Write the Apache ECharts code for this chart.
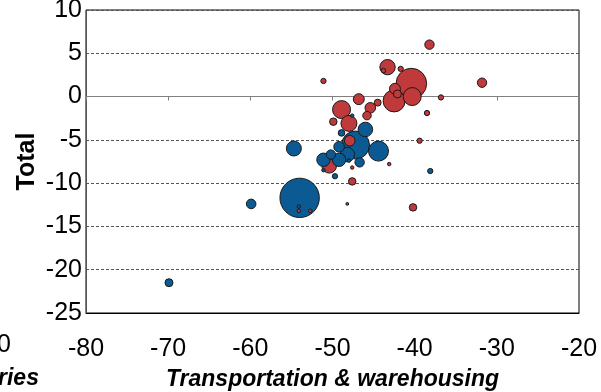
<!DOCTYPE html>
<html>
<head>
<meta charset="utf-8">
<script src="https://cdn.jsdelivr.net/npm/echarts@6/dist/echarts.min.js"></script>
<style>
html,body{margin:0;padding:0;background:#fff;}
#chart{width:601px;height:392px;}
</style>
</head>
<body>
<div id="chart"></div>
<script>
// Data: [x (Transportation & warehousing), y (Total), bubble size]
var redSeries = [
  [-38.2, 6.0, 22], [-43.3, 3.4, 59], [-43.8, 3.0, 5], [-41.7, 3.2, 7],
  [-40.4, 1.5, 234], [-31.8, 1.6, 22], [-51.1, 1.8, 7], [-42.4, 0.9, 30],
  [-42.1, 0.3, 16], [-40.3, 0.0, 81], [-42.5, -0.5, 121], [-36.8, -0.1, 7],
  [-46.8, -0.3, 30], [-44.5, -0.7, 12], [-45.4, -1.3, 28], [-48.9, -1.5, 81],
  [-45.8, -2.2, 18], [-48.0, -3.1, 64], [-49.9, -2.9, 14], [-38.5, -1.9, 7],
  [-47.9, -5.1, 28], [-39.4, -5.1, 7], [-50.4, -8.0, 53], [-43.1, -7.8, 3],
  [-47.6, -8.2, 3], [-47.6, -9.8, 14], [-48.2, -12.4, 2], [-40.2, -12.8, 14],
  [-54.1, -13.2, 3], [-52.7, -13.2, 3]
];
var blueSeries = [
  [-46.0, -3.8, 53], [-48.9, -4.2, 11], [-47.6, -2.2, 3], [-47.2, -5.6, 196],
  [-54.7, -6.0, 56], [-44.4, -6.3, 100], [-49.2, -5.8, 28], [-48.2, -6.7, 53],
  [-50.2, -6.7, 22], [-51.1, -7.3, 45], [-49.2, -7.3, 45], [-46.7, -7.6, 22],
  [-48.0, -7.4, 3], [-51.1, -8.5, 3], [-49.7, -9.2, 7], [-38.1, -8.6, 7],
  [-54.0, -11.7, 388], [-54.1, -12.7, 3], [-59.9, -12.4, 23], [-69.9, -21.5, 16]
];
var xTicks = {min: -80, max: -20, interval: 10};
var yTicks = {min: -25, max: 10, interval: 5};
var xTitle = 'Transportation & warehousing';
var yTitle = 'Total';

var RED = '#c0393b', BLUE = '#0b5a94';
var combined = [];
redSeries.forEach(function(d){ combined.push({value: d, itemStyle: {color: RED}}); });
blueSeries.forEach(function(d){ combined.push({value: d, itemStyle: {color: BLUE}}); });
combined.sort(function(a, b){ return b.value[2] - a.value[2]; });

var tickFont = "'Liberation Sans Narrow','Arial Narrow','Liberation Sans',Arial,sans-serif";
var titleFont = "'Liberation Sans',Arial,sans-serif";

var chart = echarts.init(document.getElementById('chart'), null, {renderer: 'canvas'});
chart.setOption({
  animation: false,
  backgroundColor: '#fff',
  grid: {left: 86, right: 22, top: 10, bottom: 79, containLabel: false, outerBoundsMode: 'none',
         show: true, borderColor: '#000', borderWidth: 1, backgroundColor: 'transparent'},
  xAxis: [{
    type: 'value', min: xTicks.min, max: xTicks.max, interval: xTicks.interval,
    position: 'bottom',
    axisLine: {show: true, onZero: false, lineStyle: {color: '#000'}},
    axisTick: {show: false},
    splitLine: {show: false},
    axisLabel: {fontFamily: tickFont, fontSize: 25, color: '#000', margin: 24},
    name: xTitle, nameLocation: 'middle', nameGap: 55, nameMoveOverlap: false,
    nameTextStyle: {fontFamily: titleFont, fontSize: 23, fontWeight: 'bold', fontStyle: 'italic', color: '#000'}
  }, {
    type: 'value', min: xTicks.min, max: xTicks.max, interval: xTicks.interval,
    position: 'top',
    axisLine: {show: true, onZero: true, lineStyle: {color: '#808080', width: 1}},
    axisTick: {show: true, inside: true, length: 4, lineStyle: {color: '#808080'}},
    axisLabel: {show: false},
    splitLine: {show: false}
  }],
  yAxis: {
    type: 'value', min: yTicks.min, max: yTicks.max, interval: yTicks.interval,
    axisLine: {show: true, onZero: false, lineStyle: {color: '#555'}},
    axisTick: {show: false},
    splitLine: {show: true, lineStyle: {color: '#555', type: [3, 2], width: 1}},
    axisLabel: {fontFamily: tickFont, fontSize: 25, color: '#000', margin: 4},
    name: yTitle, nameLocation: 'middle', nameGap: 46, nameRotate: 90, nameMoveOverlap: false,
    nameTextStyle: {fontFamily: titleFont, fontSize: 25, fontWeight: 'bold', color: '#000'}
  },
  graphic: [
    {type: 'text', right: 590, top: 333, style: {text: '0', font: "25px 'Liberation Sans Narrow','Arial Narrow',sans-serif", fill: '#000'}},
    {type: 'text', left: -2, top: 367, style: {text: 'ries', font: "italic bold 23px 'Liberation Sans',Arial,sans-serif", fill: '#000'}}
  ],
  series: [{
    type: 'scatter',
    xAxisIndex: 0,
    data: combined,
    symbolSize: function(v){ return 2 * Math.sqrt(v[2]); },
    itemStyle: {borderColor: '#1a1a1a', borderWidth: 1, opacity: 1}
  }]
});
</script>
</body>
</html>
